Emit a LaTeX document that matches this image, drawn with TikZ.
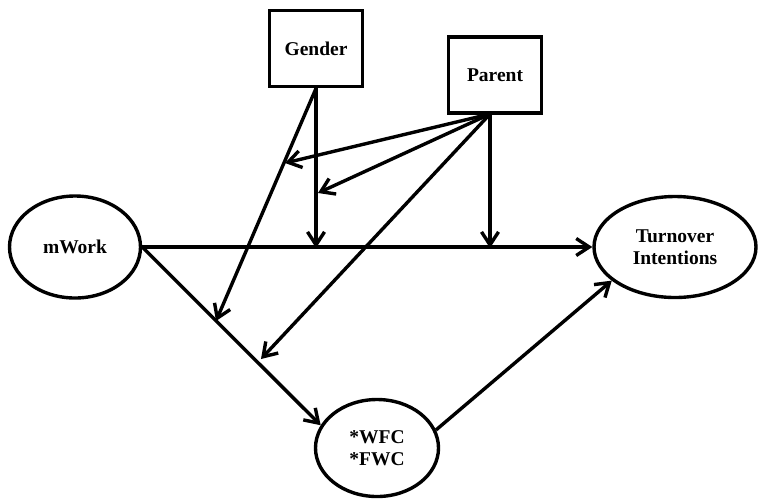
\documentclass[tikz,border=0pt]{standalone}
\usepackage{fontspec}
\setmainfont{Liberation Serif}
\usetikzlibrary{shapes.geometric,arrows.meta}
\begin{document}
\begin{tikzpicture}[x=1pt,y=-1pt,
  every node/.style={font=\fontsize{19.5}{22.5}\selectfont\bfseries, align=center},
  box/.style={draw, line width=3.8pt, minimum width=93pt, minimum height=76pt, inner sep=0pt},
  oval/.style={draw, ellipse, line width=3.4pt, inner sep=0pt},
  conn/.style={line width=3.4pt, -{Straight Barb[length=13pt,width=17pt,line width=3.4pt]}}]
\useasboundingbox (0,0) rectangle (759,499);
\node[box] (gender) at (316,48.5) {Gender};
\node[box] (parent) at (495,75) {Parent};
\node[oval, minimum width=131pt, minimum height=102pt] (mwork) at (75,247) {mWork};
\node[oval, minimum width=162pt, minimum height=101pt] (turn) at (675,247) {Turnover\\Intentions};
\node[oval, minimum width=123pt, minimum height=97pt] (wfc) at (377,448) {*WFC\\*FWC};
\coordinate (gv) at (316,248);
\coordinate (pv) at (490,248);
\coordinate (gd) at (216,321);
\coordinate (p1) at (285,163);
\coordinate (p2) at (318,193);
\coordinate (p3) at (261,359);
\coordinate (ps) at (490,114);
\draw[conn] (mwork.east) -- (turn.west);
\draw[conn] (mwork.east) -- (wfc.158);
\draw[conn] (wfc.17) -- (turn.208);
\draw[conn] (gender.south) -- (gv);
\draw[conn] (gender.south) -- (gd);
\draw[conn] (ps) -- (pv);
\draw[conn] (ps) -- (p1);
\draw[conn] (ps) -- (p2);
\draw[conn] (ps) -- (p3);
\end{tikzpicture}
\end{document}
